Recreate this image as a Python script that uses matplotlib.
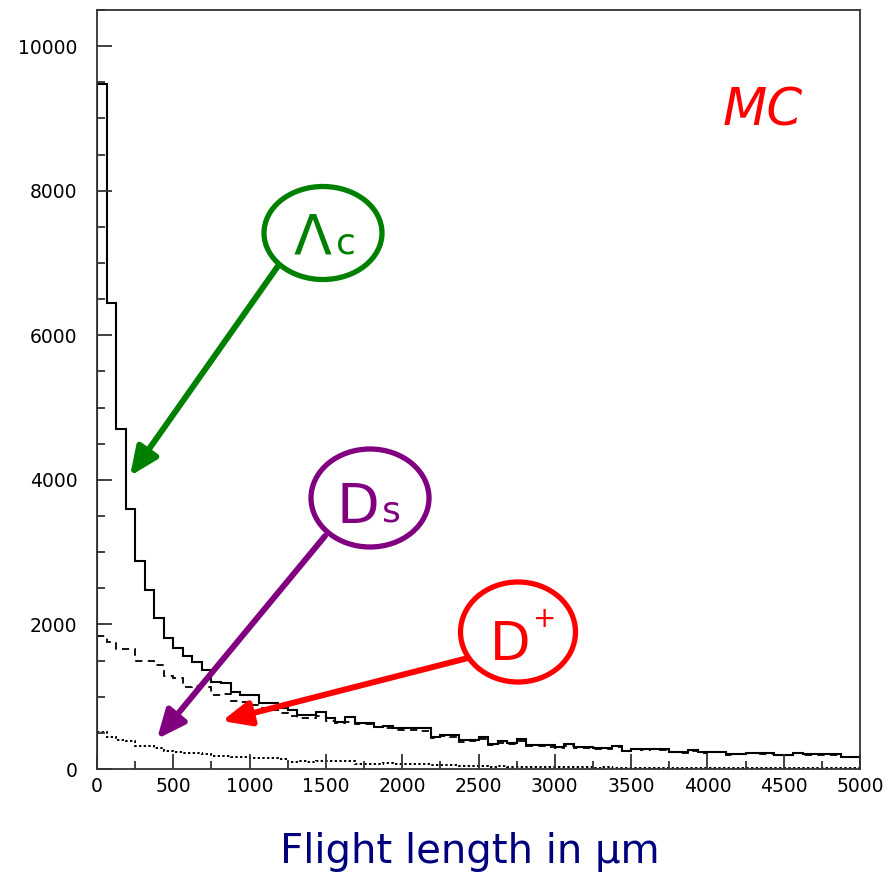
import numpy as np
import matplotlib
matplotlib.use('Agg')
import matplotlib.pyplot as plt
from matplotlib.patches import Ellipse, FancyArrowPatch
from matplotlib.ticker import MultipleLocator

# 80 bins of 62.5 um between 0 and 5000
edges = np.linspace(0, 5000, 81)

lambda_c = [9474, 6445, 4703, 3596, 2881, 2476, 2090, 1810, 1675, 1560,
            1480, 1370, 1200, 1194, 1069, 1023, 1023, 917, 917, 840,
            816, 747, 747, 792, 701, 654, 723, 640, 640, 577,
            597, 567, 567, 567, 567, 447, 470, 470, 401, 401,
            443, 346, 387, 360, 415, 332, 332, 332, 308, 346,
            308, 308, 286, 286, 318, 253, 281, 281, 281, 281,
            239, 235, 259, 235, 239, 239, 207, 207, 225, 217,
            217, 194, 194, 225, 203, 203, 203, 203, 170, 170]

d_plus = [1840, 1756, 1660, 1660, 1494, 1494, 1438, 1286, 1258, 1134,
          1148, 1134, 1023, 1037, 940, 927, 885, 843, 816, 774,
          733, 705, 705, 733, 664, 636, 650, 622, 622, 580,
          570, 540, 540, 545, 530, 430, 450, 440, 380, 390,
          415, 330, 365, 345, 390, 315, 320, 310, 290, 325,
          290, 295, 270, 275, 300, 245, 270, 265, 270, 268,
          230, 228, 250, 228, 232, 234, 200, 203, 220, 212,
          212, 190, 190, 220, 200, 200, 200, 200, 167, 167]

d_s = [516, 447, 401, 390, 322, 322, 286, 250, 239, 217,
       217, 210, 180, 175, 170, 165, 150, 148, 148, 140,
       101, 105, 101, 115, 115, 110, 115, 75, 69, 72,
       87, 75, 69, 66, 64, 62, 60, 58, 38, 36,
       35, 33, 35, 32, 30, 32, 30, 28, 25, 27,
       24, 22, 20, 22, 20, 18, 16, 16, 15, 15,
       15, 14, 14, 14, 13, 13, 13, 12, 12, 12,
       12, 11, 11, 11, 11, 10, 10, 10, 10, 10]

W, H = 893, 872
fig = plt.figure(figsize=(W / 100, H / 100), dpi=100)
ax = fig.add_axes([97 / W, 1 - 769 / H, (860 - 97) / W, (769 - 10) / H])


def fp(x, y):
    # figure pixel -> figure fraction
    return (x / W, 1 - y / H)


ax.stairs(lambda_c, edges, color='black', linewidth=1.5, baseline=0)
ax.stairs(d_plus, edges, color='black', linewidth=1.3, linestyle=(0, (4, 3)), baseline=None)
ax.stairs(d_s, edges, color='black', linewidth=1.4, linestyle=(0, (1.2, 1.2)), baseline=None)

ax.set_xlim(0, 5000)
ax.set_ylim(0, 10500)
ax.xaxis.set_major_locator(MultipleLocator(500))
ax.xaxis.set_minor_locator(MultipleLocator(250))
ax.yaxis.set_major_locator(MultipleLocator(2000))
ax.yaxis.set_minor_locator(MultipleLocator(500))
ax.tick_params(which='both', direction='in', color='#333333', width=1.3)
ax.tick_params(which='major', length=11, labelsize=13.5)
ax.tick_params(axis='y', which='major', pad=14)
ax.tick_params(axis='x', which='major', pad=6)
ax.tick_params(which='minor', length=5.5)
for s in ax.spines.values():
    s.set_linewidth(1.3)
    s.set_color('#333333')

fig.text(*fp(470, 863), 'Flight length in µm', color='#00007f', fontsize=29,
         ha='center', va='baseline')
fig.text(*fp(763, 125), 'MC', color='red', fontsize=37, style='italic',
         ha='center', va='baseline')

labels = [
    # color, ellipse centre, size, arrow start, arrow end
    ('green', (323, 233), (118, 93), (278, 266), (130, 476)),
    ('purple', (370, 498), (118, 98), (325, 536), (157, 739)),
    ('red', (518, 632), (115, 100), (468, 658), (222, 721)),
]
for col, c, (ew, eh), a0, a1 in labels:
    fig.add_artist(Ellipse(fp(*c), ew / W, eh / H, transform=fig.transFigure,
                           fill=False, edgecolor=col, linewidth=3.8))
    fig.add_artist(FancyArrowPatch(fp(*a0), fp(*a1), transform=fig.transFigure,
                                   arrowstyle='-|>,head_length=1.7,head_width=0.75',
                                   mutation_scale=10, color=col, linewidth=4.3,
                                   shrinkA=0, shrinkB=0))

fig.text(*fp(313, 253), 'Λ', color='green', fontsize=40, ha='center', va='baseline')
fig.text(*fp(346, 254), 'c', color='green', fontsize=26, ha='center', va='baseline')
fig.text(*fp(358, 523), 'D', color='purple', fontsize=40, ha='center', va='baseline')
fig.text(*fp(391, 522), 's', color='purple', fontsize=26, ha='center', va='baseline')
fig.text(*fp(510, 660), 'D', color='red', fontsize=38, ha='center', va='baseline')
fig.text(*fp(545, 627), '+', color='red', fontsize=20, ha='center', va='baseline')

fig.savefig('out.png', dpi=100)
